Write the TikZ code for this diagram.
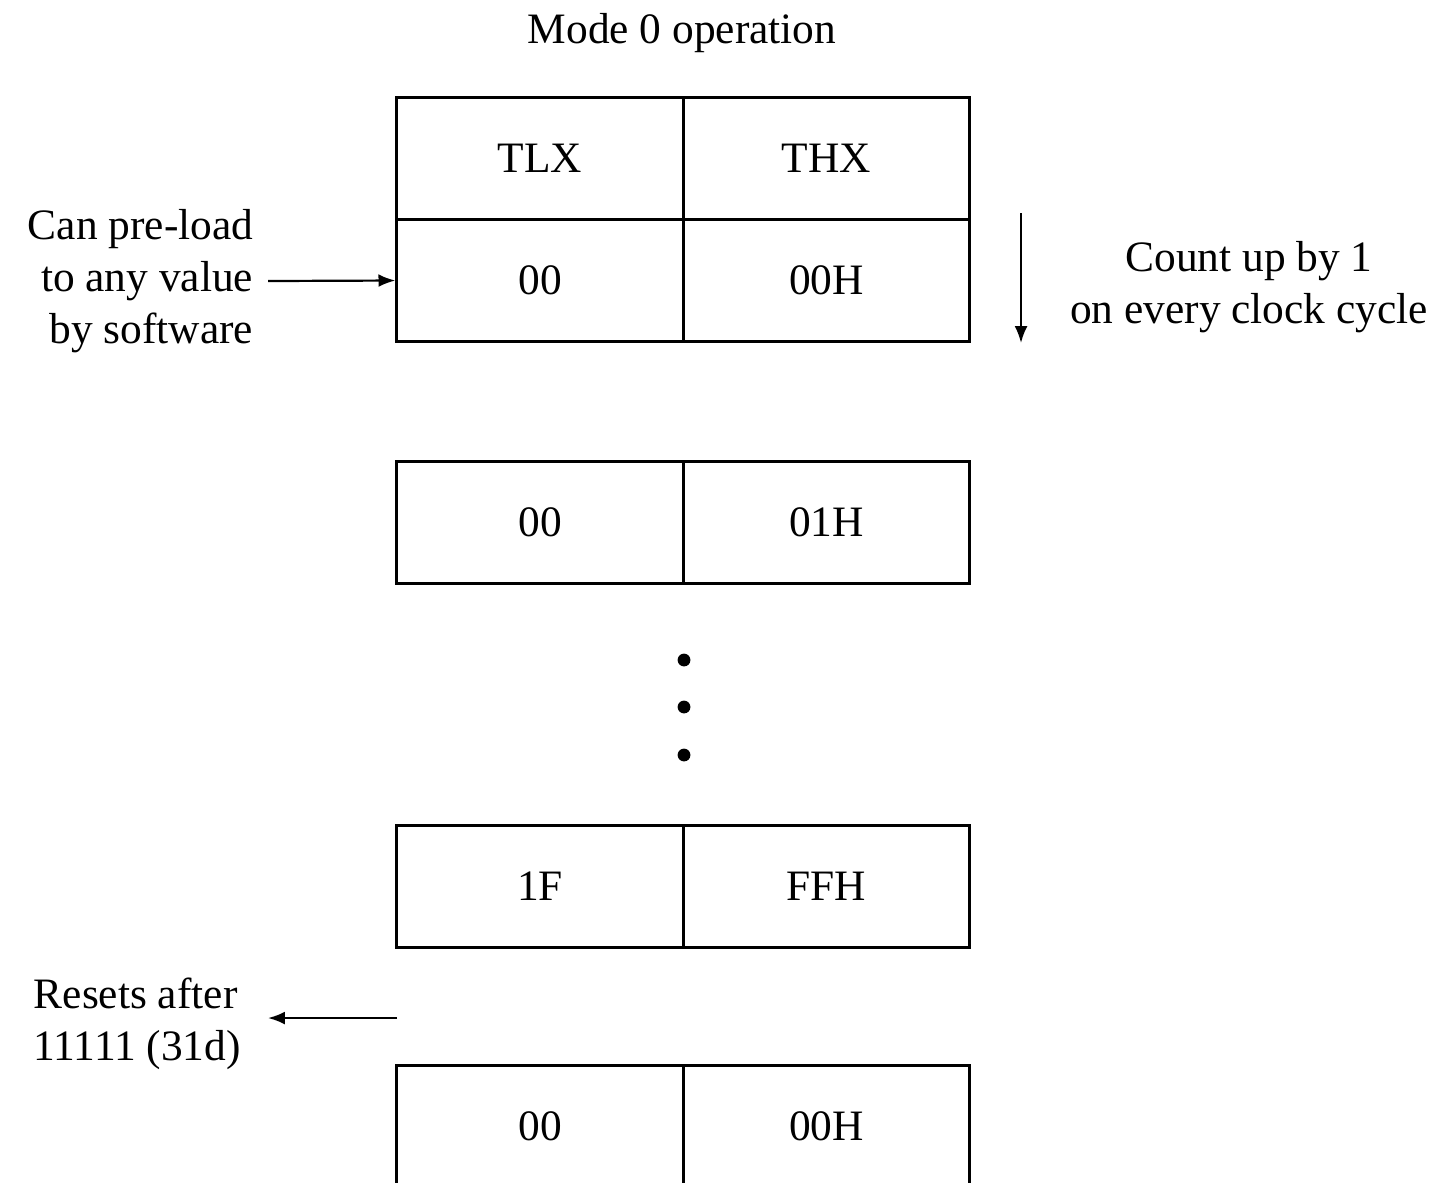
\documentclass[tikz,border=0pt]{standalone}
\usepackage{fontspec}
\setmainfont{Liberation Serif}
\usetikzlibrary{arrows.meta}
\begin{document}
\begin{tikzpicture}[x=0.25pt,y=-0.25pt,
  cell/.style={draw, line width=0.75pt, rectangle, inner sep=0pt,
    minimum width=71.6pt, minimum height=30.5pt, font=\fontsize{10.85}{13}\selectfont},
  note/.style={inner sep=0pt, font=\fontsize{10.85}{13}\selectfont},
  pointer/.style={line width=0.55pt, -{Latex[length=4.2pt,width=3.2pt]}},
  dot/.style={circle, fill, inner sep=0pt, minimum size=3.2pt}]
  \useasboundingbox (0,0) rectangle (1451,1182);
  \clip (0,0) rectangle (1451,1182);

  % title
  \node[note] (title) at (682,33) {Mode 0 operation};

  % register pair with its initial value
  \node[cell] (hl) at (540,158.5) {TLX};
  \node[cell] (hr) at (826.5,158.5) {THX};
  \node[cell] (al) at (540,280.5) {00};
  \node[cell] (ar) at (826.5,280.5) {00H};

  % after one clock
  \node[cell] (bl) at (540,522.5) {00};
  \node[cell] (br) at (826.5,522.5) {01H};

  % ellipsis
  \node[dot] (d1) at (684,660) {};
  \node[dot] (d2) at (684,707) {};
  \node[dot] (d3) at (684,755) {};

  % maximum count
  \node[cell] (cl) at (540,886) {1F};
  \node[cell] (cr) at (826.5,886) {FFH};

  % wrapped back to zero
  \node[cell] (el) at (540,1126) {00};
  \node[cell] (er) at (826.5,1126) {00H};

  % side notes
  \node[note, align=right, anchor=east] (preload) at (254,281)
    {Can pre-load\\to any value\\by software};
  \path (preload.east) ++(14,0) coordinate (pstart);
  \draw[pointer] (pstart) -- (al.west);

  \coordinate (cstart) at (1021,213);
  \coordinate (cend) at (1021,343);
  \draw[pointer] (cstart) -- (cend);
  \node[note, align=center] (count) at (1249,287)
    {Count up by 1\\on every clock cycle};

  \node[note, align=left, anchor=west] (reset) at (33,1024)
    {Resets after\\11111 (31d)};
  \coordinate (rstart) at (397,1018);
  \coordinate (rend) at (268,1018);
  \draw[pointer] (rstart) -- (rend);
\end{tikzpicture}
\end{document}
